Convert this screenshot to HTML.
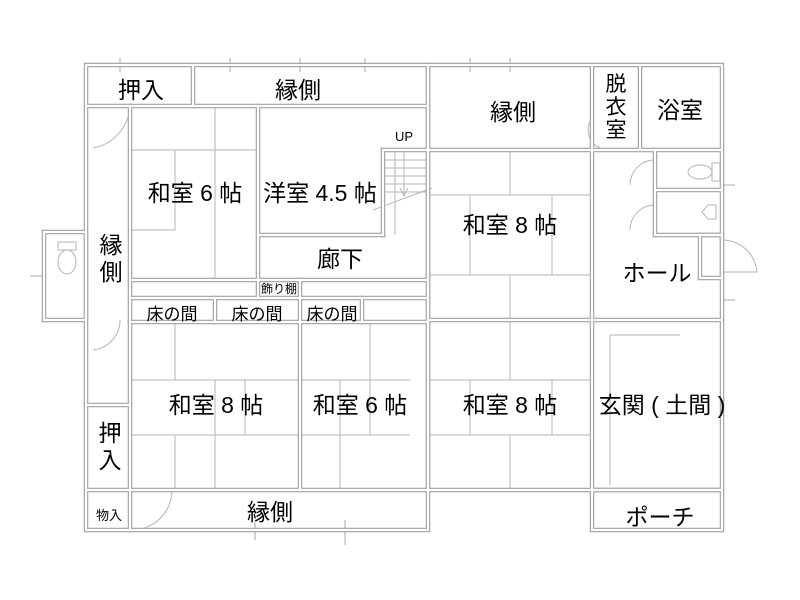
<!DOCTYPE html>
<html><head><meta charset="utf-8"><style>
html,body{margin:0;padding:0;background:#fff;}
svg{display:block;}
text{font-family:"Liberation Sans","Noto Sans CJK JP",sans-serif;fill:#000;}
</style></head><body>
<svg width="800" height="600" viewBox="0 0 800 600" xmlns="http://www.w3.org/2000/svg">
<g fill="none" stroke="#b5b5b5" stroke-width="1">
<line x1="175" y1="150" x2="175" y2="230"/><line x1="215" y1="106" x2="215" y2="280"/><line x1="130" y1="230" x2="175" y2="230"/>
<line x1="130" y1="150" x2="258" y2="150"/>
<line x1="215" y1="380" x2="215" y2="490"/><line x1="130" y1="380" x2="300" y2="380"/><line x1="130" y1="435" x2="300" y2="435"/>
<line x1="175" y1="322" x2="175" y2="380"/><line x1="175" y1="435" x2="175" y2="490"/><line x1="245" y1="380" x2="245" y2="435"/>
<line x1="300" y1="380" x2="410" y2="380"/><line x1="300" y1="435" x2="410" y2="435"/><line x1="340" y1="380" x2="340" y2="490"/><line x1="370" y1="322" x2="370" y2="435"/>
<line x1="428" y1="195" x2="592" y2="195"/><line x1="428" y1="275" x2="592" y2="275"/><line x1="470" y1="195" x2="470" y2="275"/><line x1="552" y1="195" x2="552" y2="275"/><line x1="510" y1="150" x2="510" y2="195"/><line x1="510" y1="275" x2="510" y2="320"/>
<line x1="428" y1="380" x2="592" y2="380"/><line x1="428" y1="435" x2="592" y2="435"/><line x1="470" y1="380" x2="470" y2="435"/><line x1="552" y1="380" x2="552" y2="435"/><line x1="510" y1="320" x2="510" y2="380"/><line x1="510" y1="435" x2="510" y2="490"/>
<line x1="395" y1="150" x2="395" y2="235"/>
<line x1="383" y1="160" x2="428" y2="160"/><line x1="383" y1="168" x2="428" y2="168"/><line x1="383" y1="176" x2="428" y2="176"/><line x1="383" y1="184" x2="428" y2="184"/><line x1="383" y1="192" x2="428" y2="192"/>
<line x1="404" y1="150" x2="404" y2="195"/><path d="M400 188 L404 196 L408 188"/>
<line x1="373" y1="210" x2="432" y2="188"/>
<path d="M130 106 A45 45 0 0 1 93 148"/>
<path d="M120 320 A30 30 0 0 1 93 350"/>
<path d="M172 490 A40 40 0 0 1 132 530"/>
<path d="M655 160 A25 25 0 0 0 630 185"/>
<path d="M655 205 A25 25 0 0 0 630 230"/>
<path d="M722 240 A35 35 0 0 1 757 272 L722 272"/>
<path d="M592 118 A20 20 0 0 0 600 148"/>
<line x1="610" y1="335" x2="680" y2="335"/><line x1="610" y1="335" x2="610" y2="485"/>
<ellipse cx="67" cy="262" rx="9" ry="12"/><rect x="58" y="242" width="18" height="8"/>
<ellipse cx="700" cy="172" rx="12" ry="7"/><rect x="712" y="163" width="8" height="18"/>
<path d="M702 212 L708 205 L716 205 L716 219 L708 219 Z"/>
<g stroke="#aaa">
<line x1="120" y1="58" x2="120" y2="72"/><line x1="230" y1="58" x2="230" y2="72"/><line x1="300" y1="58" x2="300" y2="72"/><line x1="365" y1="58" x2="365" y2="72"/>
<line x1="470" y1="58" x2="470" y2="72"/><line x1="510" y1="58" x2="510" y2="72"/>
<line x1="345" y1="520" x2="345" y2="545"/><line x1="255" y1="520" x2="255" y2="540"/>
<line x1="722" y1="185" x2="735" y2="185"/><line x1="722" y1="300" x2="735" y2="300"/>
<line x1="30" y1="276" x2="44" y2="276"/>
</g>
</g>
<g fill="none" stroke-linecap="square">
<g stroke="#a0a0a0" stroke-width="4.5">
<rect x="86" y="65" width="342" height="465"/>
<line x1="86" y1="106" x2="428" y2="106"/><line x1="193" y1="65" x2="193" y2="106"/>
<line x1="130" y1="106" x2="130" y2="490"/><line x1="86" y1="405" x2="130" y2="405"/><line x1="86" y1="490" x2="428" y2="490"/><line x1="130" y1="490" x2="130" y2="530"/>
<line x1="258" y1="106" x2="258" y2="298"/><line x1="258" y1="235" x2="383" y2="235"/><line x1="383" y1="150" x2="383" y2="235"/><line x1="383" y1="150" x2="428" y2="150"/>
<line x1="130" y1="280" x2="428" y2="280"/><line x1="130" y1="298" x2="428" y2="298"/><line x1="130" y1="322" x2="428" y2="322"/>
<line x1="215" y1="298" x2="215" y2="322"/><line x1="300" y1="280" x2="300" y2="490"/><line x1="362" y1="298" x2="362" y2="322"/>
<rect x="44" y="232" width="42" height="88"/>
<rect x="428" y="65" width="294" height="425"/>
<line x1="428" y1="150" x2="722" y2="150"/><line x1="592" y1="65" x2="592" y2="490"/><line x1="640" y1="65" x2="640" y2="150"/>
<line x1="428" y1="320" x2="722" y2="320"/><line x1="655" y1="150" x2="655" y2="235"/><line x1="655" y1="190" x2="722" y2="190"/><line x1="655" y1="235" x2="722" y2="235"/>
<rect x="700" y="235" width="22" height="43"/>
<rect x="592" y="490" width="130" height="40"/>
</g>
<g stroke="#fff" stroke-width="2.2">
<rect x="86" y="65" width="342" height="465"/>
<line x1="86" y1="106" x2="428" y2="106"/><line x1="193" y1="65" x2="193" y2="106"/>
<line x1="130" y1="106" x2="130" y2="490"/><line x1="86" y1="405" x2="130" y2="405"/><line x1="86" y1="490" x2="428" y2="490"/><line x1="130" y1="490" x2="130" y2="530"/>
<line x1="258" y1="106" x2="258" y2="298"/><line x1="258" y1="235" x2="383" y2="235"/><line x1="383" y1="150" x2="383" y2="235"/><line x1="383" y1="150" x2="428" y2="150"/>
<line x1="130" y1="280" x2="428" y2="280"/><line x1="130" y1="298" x2="428" y2="298"/><line x1="130" y1="322" x2="428" y2="322"/>
<line x1="215" y1="298" x2="215" y2="322"/><line x1="300" y1="280" x2="300" y2="490"/><line x1="362" y1="298" x2="362" y2="322"/>
<rect x="44" y="232" width="42" height="88"/>
<rect x="428" y="65" width="294" height="425"/>
<line x1="428" y1="150" x2="722" y2="150"/><line x1="592" y1="65" x2="592" y2="490"/><line x1="640" y1="65" x2="640" y2="150"/>
<line x1="428" y1="320" x2="722" y2="320"/><line x1="655" y1="150" x2="655" y2="235"/><line x1="655" y1="190" x2="722" y2="190"/><line x1="655" y1="235" x2="722" y2="235"/>
<rect x="700" y="235" width="22" height="43"/>
<rect x="592" y="490" width="130" height="40"/>
</g>
</g>
<g font-size="23" text-anchor="middle">
<text x="141" y="98">押入</text>
<text x="298" y="98">縁側</text>
<text x="513" y="120">縁側</text>
<text x="616" y="91" font-size="21">脱</text><text x="616" y="114" font-size="21">衣</text><text x="616" y="137" font-size="21">室</text>
<text x="680" y="118">浴室</text>
<text x="195" y="201">和室 6 帖</text>
<text x="320" y="201">洋室 4.5 帖</text>
<text x="111" y="253">縁</text><text x="111" y="280">側</text>
<text x="340" y="267">廊下</text>
<text x="510" y="233">和室 8 帖</text>
<text x="657" y="281">ホール</text>
<text x="216" y="413">和室 8 帖</text>
<text x="360" y="413">和室 6 帖</text>
<text x="510" y="413">和室 8 帖</text>
<text x="662" y="413">玄関 ( 土間 )</text>
<text x="110" y="441">押</text><text x="110" y="468">入</text>
<text x="270" y="520">縁側</text>
<text x="660" y="525">ポーチ</text>
</g>
<g font-size="17" text-anchor="middle">
<text x="172" y="320">床の間</text><text x="257" y="320">床の間</text><text x="332" y="320">床の間</text>
</g>
<text x="279" y="293" font-size="12" text-anchor="middle">飾り棚</text>
<text x="109" y="520" font-size="13" text-anchor="middle">物入</text>
<text x="404" y="141" font-size="13" text-anchor="middle">UP</text>
</svg>
</body></html>
